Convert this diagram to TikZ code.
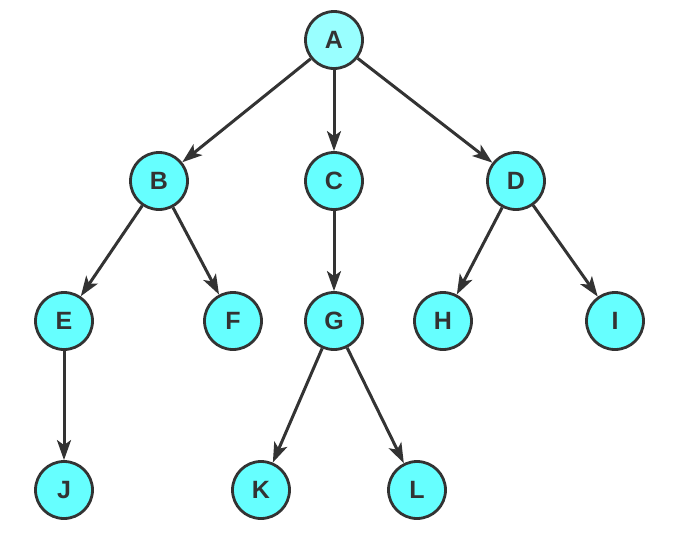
\documentclass[tikz,border=0pt]{standalone}
\usepackage{fontspec}
\setmainfont{Liberation Sans}
\usetikzlibrary{arrows.meta}
\definecolor{nodefill}{HTML}{66FFFF}
\definecolor{rootfill}{HTML}{99FFFF}
\definecolor{edgecol}{HTML}{333333}
\tikzset{
  treenode/.style={circle, draw=edgecol, line width=2.8pt, fill=nodefill, minimum size=57pt, inner sep=0pt, font=\fontsize{25}{25}\selectfont\bfseries, text=edgecol},
  rootnode/.style={treenode, fill=rootfill},
  edge/.style={draw=edgecol, line width=3pt, -{Stealth[length=20pt,width=14pt,inset=5pt]}}
}
\begin{document}
\begin{tikzpicture}[x=1pt,y=-1pt]
\useasboundingbox (0,0) rectangle (673,533);
\node[rootnode] (A) at (334,40) {A};
\node[treenode] (B) at (159,181) {B};
\node[treenode] (C) at (334,181) {C};
\node[treenode] (D) at (516,181) {D};
\node[treenode] (E) at (64,321) {E};
\node[treenode] (F) at (233,321) {F};
\node[treenode] (G) at (334,321) {G};
\node[treenode] (H) at (443,321) {H};
\node[treenode] (I) at (615,321) {I};
\node[treenode] (J) at (64,490) {J};
\node[treenode] (K) at (261,490) {K};
\node[treenode] (L) at (417,490) {L};
\draw[edge] (A) -- (B);
\draw[edge] (A) -- (C);
\draw[edge] (A) -- (D);
\draw[edge] (B) -- (E);
\draw[edge] (B) -- (F);
\draw[edge] (C) -- (G);
\draw[edge] (D) -- (H);
\draw[edge] (D) -- (I);
\draw[edge] (E) -- (J);
\draw[edge] (G) -- (K);
\draw[edge] (G) -- (L);
\end{tikzpicture}
\end{document}
